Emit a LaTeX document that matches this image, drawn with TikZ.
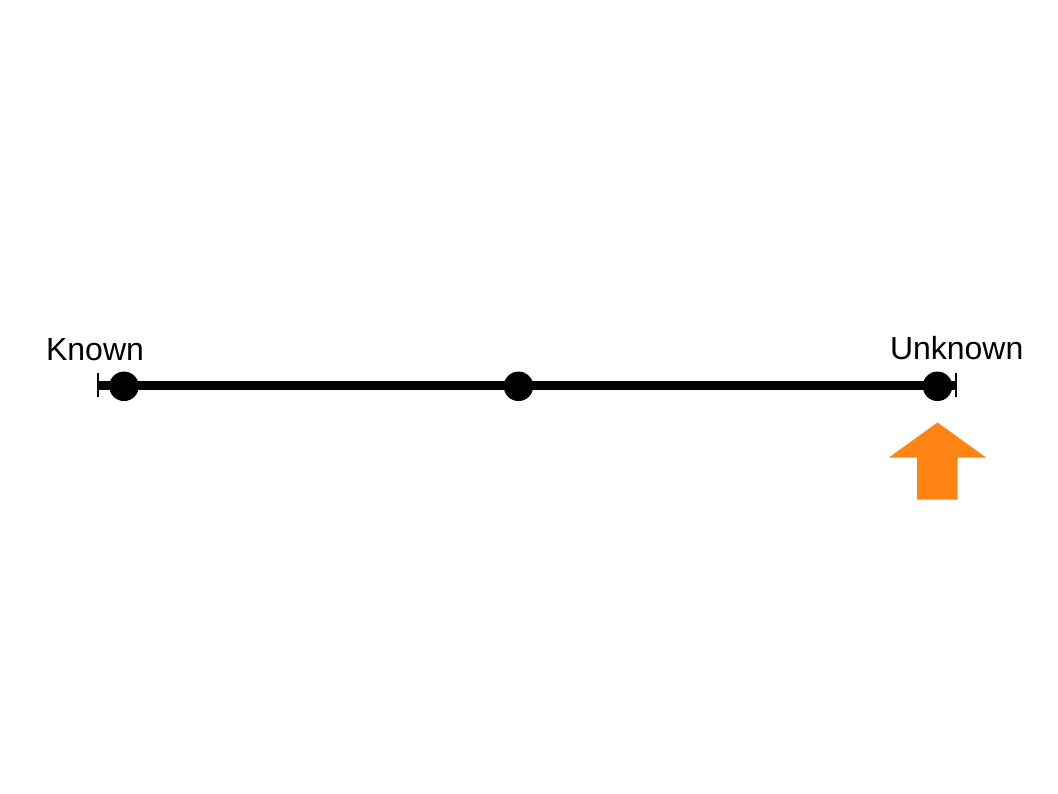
\documentclass[tikz,border=0pt]{standalone}
\usepackage{fontspec}
\setmainfont{Liberation Sans}
\definecolor{arroworange}{RGB}{253,132,19}
\begin{document}
\begin{tikzpicture}[x=1pt,y=-1pt,
  lbl/.style={font=\fontsize{32}{32}\selectfont, inner sep=0pt, anchor=base},
  dot/.style={circle, fill=black, minimum size=29.5pt, inner sep=0pt},
  axis/.style={line width=9pt},
  endbar/.style={line width=2.5pt}]
\useasboundingbox (0,0) rectangle (1058,794);
\coordinate (L) at (97.8,385.8);
\coordinate (R) at (956.2,385.8);
\draw[axis] (L) -- (R);
\draw[endbar] (97.8,373) coordinate (Lt) -- (97.8,397) coordinate (Lb);
\draw[endbar] (956.2,373) coordinate (Rt) -- (956.2,397) coordinate (Rb);
\node[dot] (d1) at (124,386.3) {};
\node[dot] (d2) at (518.5,386.3) {};
\node[dot] (d3) at (937.5,386.3) {};
\node[lbl] (known) at (95,360.3) {Known};
\node[lbl] (unknown) at (956.7,359.5) {Unknown};
\fill[arroworange] (937.5,422.5) -- (986,457.5) -- (957.5,457.5) -- (957.5,499.5)
  -- (917,499.5) -- (917,457.5) -- (889,457.5) -- cycle;
\end{tikzpicture}
\end{document}
